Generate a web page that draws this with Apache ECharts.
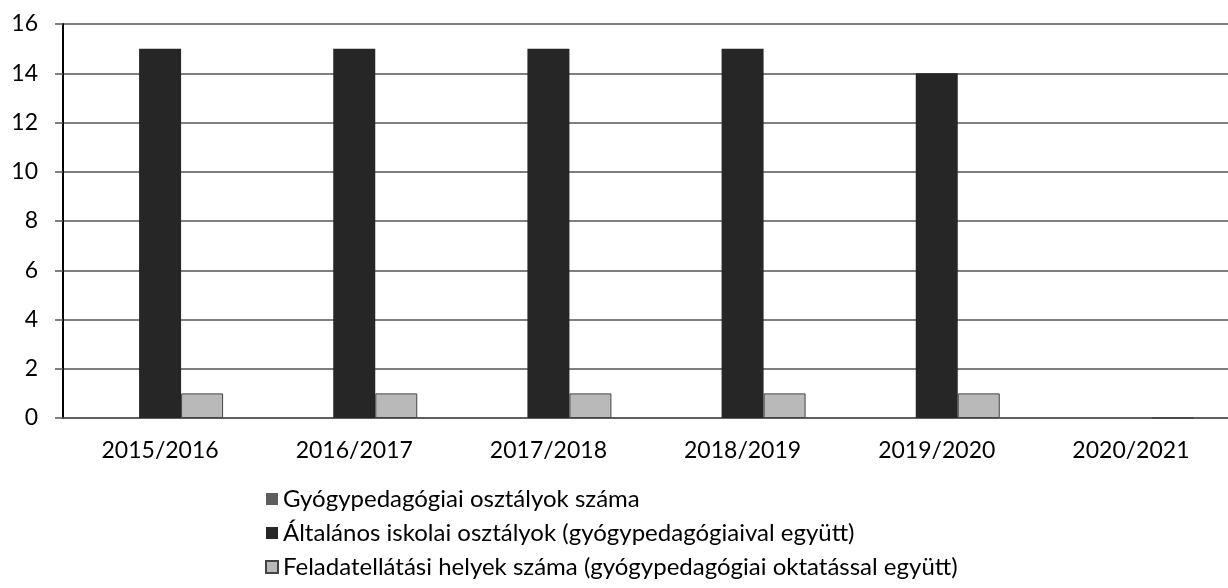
<!DOCTYPE html>
<html>
<head>
<meta charset="utf-8">
<title>Osztályok száma</title>
<script src="https://cdn.jsdelivr.net/npm/echarts@6/dist/echarts.min.js"></script>
<style>
  html, body { margin: 0; padding: 0; background: #fff; }
  #chart { width: 1228px; height: 588px; }
</style>
</head>
<body>
<div id="chart"></div>
<script>
// tanévek
const years = ['2015/2016', '2016/2017', '2017/2018', '2018/2019', '2019/2020', '2020/2021']
// sorozatok
const seriesNames = [
  'Gyógypedagógiai osztályok száma',
  'Általános iskolai osztályok (gyógypedagógiaival együtt)',
  'Feladatellátási helyek száma (gyógypedagógiai oktatással együtt)'
]
const specialClasses = [0, 0, 0, 0, 0, 0]
const generalClasses = [15, 15, 15, 15, 14, 0]
const sites = [1, 1, 1, 1, 1, 0]
const yTicks = [0, 2, 4, 6, 8, 10, 12, 14, 16]

const chart = echarts.init(document.getElementById('chart'))
const font = 'Lato, "Open Sans", sans-serif'

const option = {
  animation: false,
  textStyle: { fontFamily: font },
  grid: { left: 63, top: 24, width: 1178, height: 394 },
  legend: {
    orient: 'vertical',
    left: 260,
    top: 482,
    itemGap: 10,
    itemWidth: 12,
    itemHeight: 12,
    icon: 'rect',
    textStyle: { fontSize: 24, color: '#000', fontFamily: font },
    data: seriesNames
  },
  xAxis: {
    type: 'category',
    data: years,
    axisLine: { lineStyle: { color: '#555', width: 1.5 } },
    axisTick: { length: 8, lineStyle: { color: '#000', width: 1.5 } },
    axisLabel: { color: '#000', fontSize: 23, margin: 21 }
  },
  yAxis: {
    type: 'value',
    min: yTicks[0],
    max: yTicks[yTicks.length - 1],
    interval: 2,
    axisLine: { show: true, lineStyle: { color: '#000', width: 2 } },
    axisTick: { show: true, length: 8, lineStyle: { color: '#555', width: 1.5 } },
    splitLine: { lineStyle: { color: '#555', width: 1.5 } },
    axisLabel: { color: '#000', fontSize: 23, margin: 25 }
  },
  series: [
    {
      name: seriesNames[0],
      type: 'bar',
      data: specialClasses,
      barWidth: 42,
      barGap: '0%',
      itemStyle: { color: '#5e5e5e' }
    },
    {
      name: seriesNames[1],
      type: 'bar',
      data: generalClasses,
      barWidth: 42,
      barGap: '0%',
      itemStyle: { color: '#262626' }
    },
    {
      name: seriesNames[2],
      type: 'bar',
      data: sites,
      barWidth: 42,
      barGap: '0%',
      itemStyle: { color: '#b9b9b9', borderColor: '#444', borderWidth: 1 }
    }
  ]
}

chart.setOption(option)
</script>
</body>
</html>
